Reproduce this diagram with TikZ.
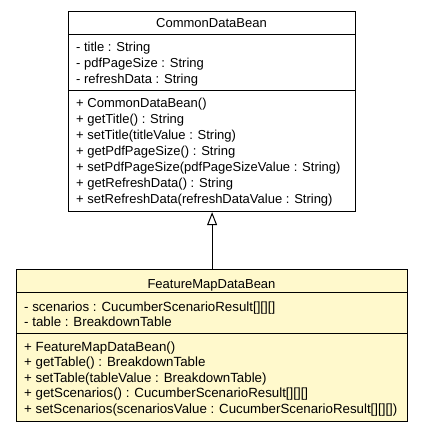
\documentclass[tikz,border=0pt]{standalone}
\usepackage{fontspec}
\setmainfont{Liberation Sans}
\usetikzlibrary{arrows.meta}
\definecolor{classfill}{HTML}{FFF9CC}
\tikzset{
  umlbox/.style={draw=black, line width=1.2pt, inner sep=0pt, anchor=north west},
  member/.style={anchor=base west, inner sep=0pt, font=\fontsize{13}{16}\selectfont},
  wmember/.style={member, font=\fontsize{13.3}{16}\selectfont},
  cname/.style={anchor=base, inner sep=0pt, font=\fontsize{13}{16}\selectfont},
  sep/.style={line width=1pt},
  inherit/.style={line width=1.2pt, -{Triangle[open, length=13pt, width=10pt, line width=1pt]}}
}
\begin{document}
\begin{tikzpicture}[x=1pt, y=-1pt]
\useasboundingbox (0,0) rectangle (423,432);

% CommonDataBean
\node[umlbox, minimum width=287pt, minimum height=200pt] (common) at (68,11) {};
\draw[sep] (68,34) -- (355,34);
\draw[sep] (68,90) -- (355,90);
\node[cname] (commontitle) at (211.5,27) {CommonDataBean};
\node[member] (ca1) at (76,51) {- title : String};
\node[member] (ca2) at (76,67) {- pdfPageSize : String};
\node[member] (ca3) at (76,83) {- refreshData : String};
\node[member] (cm1) at (76,107) {+ CommonDataBean()};
\node[member] (cm2) at (76,123) {+ getTitle() : String};
\node[member] (cm3) at (76,139) {+ setTitle(titleValue : String)};
\node[member] (cm4) at (76,155) {+ getPdfPageSize() : String};
\node[member] (cm5) at (76,171) {+ setPdfPageSize(pdfPageSizeValue : String)};
\node[member] (cm6) at (76,187) {+ getRefreshData() : String};
\node[member] (cm7) at (76,203) {+ setRefreshData(refreshDataValue : String)};

% FeatureMapDataBean
\node[umlbox, fill=classfill, minimum width=391pt, minimum height=152pt] (feature) at (16,269) {};
\draw[sep] (16,292) -- (407,292);
\draw[sep] (16,333) -- (407,333);
\node[cname] (featuretitle) at (211.5,288) {FeatureMapDataBean};
\node[wmember] (fa1) at (24,311) {- scenarios : CucumberScenarioResult[][][]};
\node[wmember] (fa2) at (24,326.5) {- table : BreakdownTable};
\node[wmember] (fm1) at (24,351) {+ FeatureMapDataBean()};
\node[wmember] (fm2) at (24,366.5) {+ getTable() : BreakdownTable};
\node[wmember] (fm3) at (24,382) {+ setTable(tableValue : BreakdownTable)};
\node[wmember] (fm4) at (24,397.5) {+ getScenarios() : CucumberScenarioResult[][][]};
\node[wmember] (fm5) at (24,413) {+ setScenarios(scenariosValue : CucumberScenarioResult[][][])};

% generalization
\draw[inherit] (feature.north) -- (common.south);
\end{tikzpicture}
\end{document}
